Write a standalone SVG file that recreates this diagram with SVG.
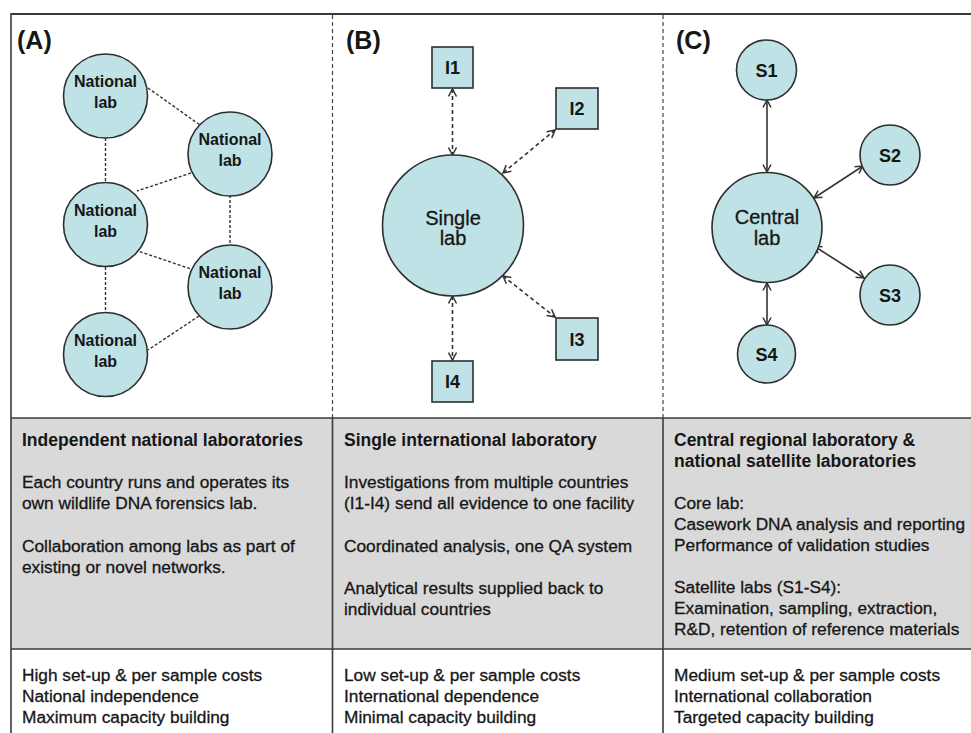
<svg xmlns="http://www.w3.org/2000/svg" width="971" height="733" viewBox="0 0 971 733">
<style>
  text { font-family: "Liberation Sans", Arial, sans-serif; fill: #161616; }
  .node { fill: #bfe2e6; stroke: #2e2e2e; stroke-width: 1.6; }
  .nl { font-size: 16px; font-weight: bold; text-anchor: middle; }
  .big { font-size: 20px; text-anchor: middle; stroke: #161616; stroke-width: 0.3; }
  .sl { font-size: 18px; font-weight: bold; text-anchor: middle; }
  .pl { font-size: 25px; font-weight: bold; }
  .hd { font-size: 17.5px; font-weight: bold; }
  .tx { font-size: 17.3px; stroke: #161616; stroke-width: 0.3; }
  .netl { stroke: #333; stroke-width: 1.4; stroke-dasharray: 3 2; fill: none; }
  .darr { stroke: #333; stroke-width: 1.6; stroke-dasharray: 4 3; fill: none; marker-start: url(#chev); marker-end: url(#chev); }
  .sarr { stroke: #333; stroke-width: 1.6; fill: none; marker-start: url(#chev); marker-end: url(#chev); }
  .div { stroke: #444; stroke-width: 1.2; stroke-dasharray: 4 3; }
  .grid { stroke: #3a3a3a; stroke-width: 1.6; }
</style>
<defs>
  <marker id="chev" viewBox="0 0 10 10" refX="9" refY="5" markerWidth="10" markerHeight="10" markerUnits="userSpaceOnUse" orient="auto-start-reverse">
    <path d="M1.5,1 L9,5 L1.5,9" fill="none" stroke="#333" stroke-width="1.5"/>
  </marker>
</defs>
<rect x="0" y="0" width="971" height="733" fill="#ffffff"/>
<rect x="11" y="418" width="960" height="231" fill="#d9d9d9"/>
<g id="frame">
  <line class="grid" x1="11" y1="14" x2="971" y2="14" style="stroke-width:2.2"/>
  <line class="grid" x1="11" y1="13" x2="11" y2="733"/>
  <line class="grid" x1="11" y1="418" x2="971" y2="418"/>
  <line class="grid" x1="11" y1="649" x2="971" y2="649"/>
  <line class="grid" x1="332.5" y1="418" x2="332.5" y2="733"/>
  <line class="grid" x1="663" y1="418" x2="663" y2="733"/>
  <line class="div" x1="332.5" y1="15" x2="332.5" y2="418"/>
  <line class="div" x1="663" y1="15" x2="663" y2="418"/>
</g>
<text class="pl" x="17" y="49">(A)</text>
<text class="pl" x="346" y="49">(B)</text>
<text class="pl" x="676" y="49">(C)</text>
<g id="connectors">
  <line class="netl" x1="105.5" y1="138" x2="105.5" y2="182"/>
  <line class="netl" x1="148" y1="88" x2="200" y2="125"/>
  <line class="netl" x1="191" y1="173" x2="137" y2="191"/>
  <line class="netl" x1="135" y1="250" x2="191" y2="269"/>
  <line class="netl" x1="230" y1="195" x2="230" y2="245"/>
  <line class="netl" x1="105.5" y1="267" x2="105.5" y2="312"/>
  <line class="netl" x1="199" y1="316" x2="148" y2="350"/>

  <line class="darr" x1="452.5" y1="89" x2="452.5" y2="155"/>
  <line class="darr" x1="555" y1="130" x2="503" y2="173"/>
  <line class="darr" x1="503" y1="276" x2="555" y2="317"/>
  <line class="darr" x1="452.5" y1="296" x2="452.5" y2="360"/>

  <line class="sarr" x1="767" y1="100" x2="767" y2="172"/>
  <line class="sarr" x1="863" y1="166" x2="814" y2="198"/>
  <line class="sarr" x1="814" y1="246" x2="864" y2="278"/>
  <line class="sarr" x1="767" y1="283" x2="767" y2="325"/>
</g>
<g id="nat1"><circle class="node" cx="105.5" cy="96" r="42"/><text class="nl" x="105.5" y="87">National</text><text class="nl" x="105.5" y="108">lab</text></g>
<g id="nat2"><circle class="node" cx="230" cy="154" r="42"/><text class="nl" x="230" y="145">National</text><text class="nl" x="230" y="166">lab</text></g>
<g id="nat3"><circle class="node" cx="105.5" cy="224.5" r="42"/><text class="nl" x="105.5" y="215.5">National</text><text class="nl" x="105.5" y="236.5">lab</text></g>
<g id="nat4"><circle class="node" cx="230" cy="287" r="42"/><text class="nl" x="230" y="278">National</text><text class="nl" x="230" y="299">lab</text></g>
<g id="nat5"><circle class="node" cx="105.5" cy="354.5" r="42"/><text class="nl" x="105.5" y="345.5">National</text><text class="nl" x="105.5" y="366.5">lab</text></g>
<g id="single"><circle class="node" cx="453" cy="225.5" r="70.5"/><text class="big" x="453" y="224.5">Single</text><text class="big" x="453" y="245">lab</text></g>
<g id="i1"><rect class="node" x="432" y="47" width="41" height="41"/><text class="sl" x="452.5" y="74">I1</text></g>
<g id="i2"><rect class="node" x="556" y="88" width="42" height="41"/><text class="sl" x="577" y="115">I2</text></g>
<g id="i3"><rect class="node" x="556" y="318" width="42" height="42"/><text class="sl" x="577" y="345.5">I3</text></g>
<g id="i4"><rect class="node" x="432" y="361" width="41" height="41"/><text class="sl" x="452.5" y="388">I4</text></g>
<g id="central"><circle class="node" cx="767" cy="227.5" r="55"/><text class="big" x="767" y="224">Central</text><text class="big" x="767" y="245">lab</text></g>
<g id="s1"><circle class="node" cx="766.5" cy="70" r="30"/><text class="sl" x="766.5" y="76.5">S1</text></g>
<g id="s2"><circle class="node" cx="890" cy="155" r="30"/><text class="sl" x="890" y="161.5">S2</text></g>
<g id="s3"><circle class="node" cx="890" cy="295" r="30"/><text class="sl" x="890" y="301.5">S3</text></g>
<g id="s4"><circle class="node" cx="766.5" cy="354" r="29"/><text class="sl" x="766.5" y="360.5">S4</text></g>
<g id="colA">
  <text class="hd" x="22" y="446">Independent national laboratories</text>
  <text class="tx" x="22" y="488">Each country runs and operates its</text>
  <text class="tx" x="22" y="509">own wildlife DNA forensics lab.</text>
  <text class="tx" x="22" y="552">Collaboration among labs as part of</text>
  <text class="tx" x="22" y="573">existing  or novel networks.</text>
  <text class="tx" x="22" y="681">High set-up &amp; per sample costs</text>
  <text class="tx" x="22" y="702">National independence</text>
  <text class="tx" x="22" y="723">Maximum capacity building</text>
</g>
<g id="colB">
  <text class="hd" x="344" y="446">Single international laboratory</text>
  <text class="tx" x="344" y="488">Investigations from multiple countries</text>
  <text class="tx" x="344" y="509">(I1-I4) send all evidence to one facility</text>
  <text class="tx" x="344" y="552">Coordinated analysis, one QA system</text>
  <text class="tx" x="344" y="594">Analytical results supplied back to</text>
  <text class="tx" x="344" y="615">individual countries</text>
  <text class="tx" x="344" y="681">Low set-up &amp; per sample costs</text>
  <text class="tx" x="344" y="702">International dependence</text>
  <text class="tx" x="344" y="723">Minimal capacity building</text>
</g>
<g id="colC">
  <text class="hd" x="674" y="446">Central regional laboratory &amp;</text>
  <text class="hd" x="674" y="467">national satellite laboratories</text>
  <text class="tx" x="674" y="509">Core lab:</text>
  <text class="tx" x="674" y="530">Casework DNA analysis and reporting</text>
  <text class="tx" x="674" y="551">Performance of validation studies</text>
  <text class="tx" x="674" y="593">Satellite labs (S1-S4):</text>
  <text class="tx" x="674" y="614">Examination, sampling, extraction,</text>
  <text class="tx" x="674" y="635">R&amp;D, retention of reference materials</text>
  <text class="tx" x="674" y="681">Medium set-up &amp; per sample costs</text>
  <text class="tx" x="674" y="702">International collaboration</text>
  <text class="tx" x="674" y="723">Targeted capacity building</text>
</g>
</svg>
